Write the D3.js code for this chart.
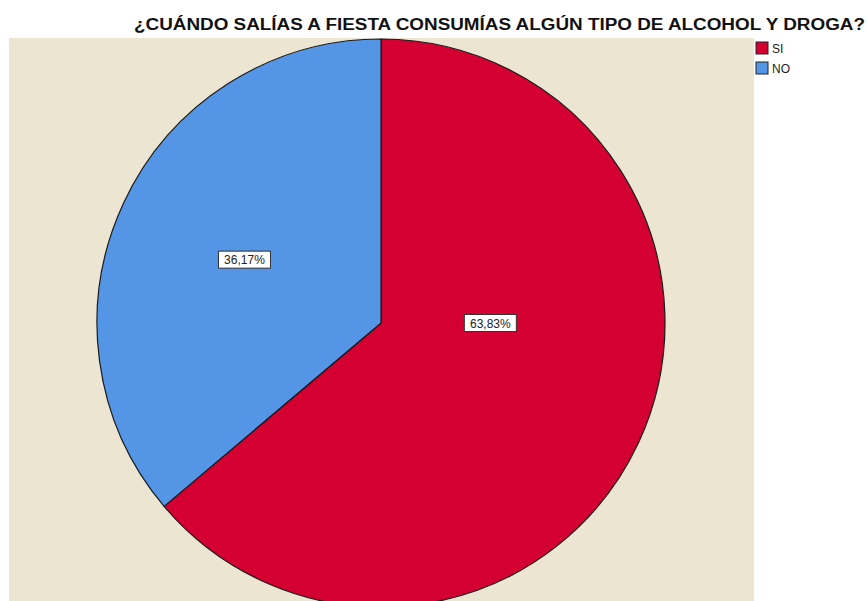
<!DOCTYPE html>
<html>
<head>
<meta charset="utf-8">
<script src="https://cdn.jsdelivr.net/npm/d3@7"></script>
<style>
	body { margin: 0; background: #fff; }
	text { font-family: "Liberation Sans", Arial, sans-serif; }
</style>
</head>
<body>
<svg id="chart" width="867" height="601"></svg>
<script>

// Data

var categories = ["SI", "NO"];
var percents = [63.83, 36.17];
var colors = ["#d50032", "#5595e5"];
var title = "¿CUÁNDO SALÍAS A FIESTA CONSUMÍAS ALGÚN TIPO DE ALCOHOL Y DROGA?";

var svg = d3.select("#chart");

var width = 867, height = 601;
var cx = 381, cy = 323, radius = 284;

// Background of the plot area
svg.append("rect")
	.attr("x", 9)
	.attr("y", 38)
	.attr("width", 745)
	.attr("height", height - 38)
	.style("fill", "#ebe5d1");

// Title
svg.append("text")
	.attr("x", 865)
	.attr("y", 30)
	.attr("text-anchor", "end")
	.attr("textLength", 731)
	.attr("lengthAdjust", "spacingAndGlyphs")
	.style("font-size", "16px")
	.style("font-weight", "bold")
	.style("fill", "#111")
	.text(title);

var dataset = categories.map(function (c, i) {
	return { name : c, value : percents[i], color : colors[i] };
});

// SI goes clockwise from 12 o'clock, NO fills the rest
var pie = d3.pie()
	.sort(null)
	.value(function (d) { return d.value; });

var arc = d3.arc()
	.innerRadius(0)
	.outerRadius(radius);

var arcs = pie(dataset);

var g = svg.append("g")
	.attr("transform", "translate(" + cx + "," + cy + ")");

g.selectAll("path")
	.data(arcs)
	.enter().append("path")
	.attr("d", arc)
	.style("fill", function (d) { return d.data.color; })
	.style("stroke", "#1a1a1a")
	.style("stroke-width", 1.2)
	.style("stroke-linejoin", "round");

// Labels : SPSS places the big slice label near the horizontal, the other at its mid angle
var labelPos = function (d, i) {
	var a = i == 0 ? Math.PI / 2 : (d.startAngle + d.endAngle) / 2;
	var r = i == 0 ? radius * 0.385 : radius * 0.53;
	return [Math.sin(a) * r, -Math.cos(a) * r];
};

var labels = g.selectAll("g.label")
	.data(arcs)
	.enter().append("g")
	.attr("class", "label")
	.attr("transform", function (d, i) {
		var p = labelPos(d, i);
		return "translate(" + p[0] + "," + p[1] + ")";
	});

labels.append("rect")
	.attr("x", -26)
	.attr("y", -8.5)
	.attr("width", 52)
	.attr("height", 17)
	.style("fill", "#fff")
	.style("stroke", "#333")
	.style("stroke-width", 1);

labels.append("text")
	.attr("text-anchor", "middle")
	.attr("y", 4.5)
	.style("font-size", "12px")
	.style("fill", "#222")
	.text(function (d) { return d3.format(".2f")(d.data.value).replace(".", ",") + "%"; });

// Legend
var legend = svg.selectAll("g.legend")
	.data(dataset)
	.enter().append("g")
	.attr("class", "legend")
	.attr("transform", function (d, i) { return "translate(756," + (42 + i * 20) + ")"; });

legend.append("rect")
	.attr("width", 12)
	.attr("height", 12)
	.style("fill", function (d) { return d.color; })
	.style("stroke", "#222")
	.style("stroke-width", 1);

legend.append("text")
	.attr("x", 16)
	.attr("y", 11)
	.style("font-size", "12px")
	.style("fill", "#222")
	.text(function (d) { return d.name; });

</script>
</body>
</html>
